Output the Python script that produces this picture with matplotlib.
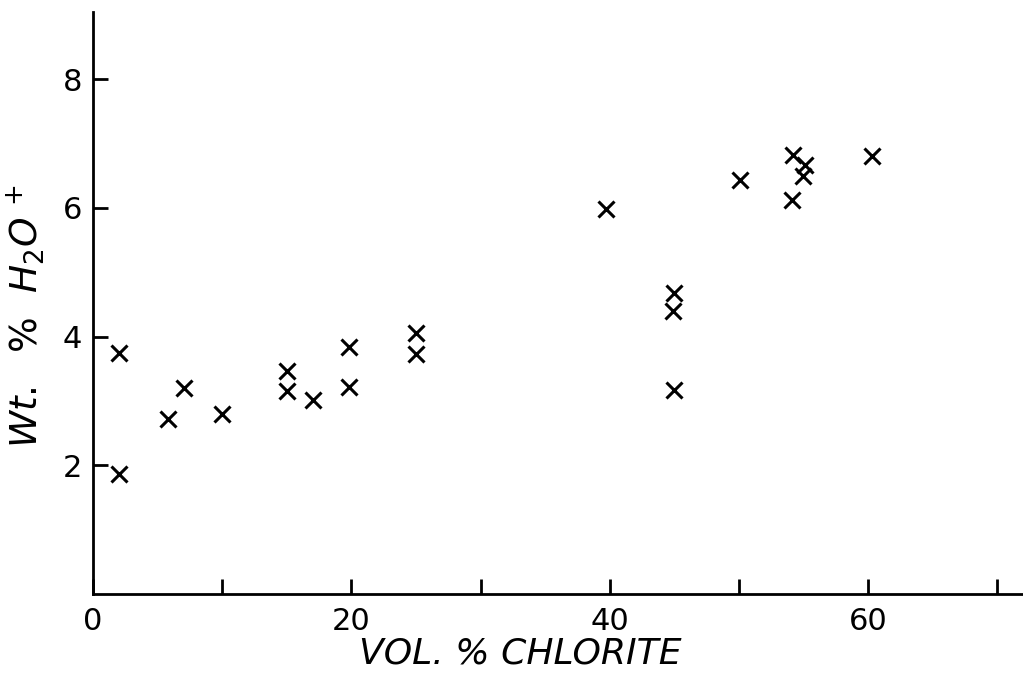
import matplotlib
matplotlib.use("Agg")
import matplotlib.pyplot as plt

# chlorite volume % vs. wt. % H2O+
chlorite = [2, 2, 5.8, 7.0, 10.0, 15.0, 15.0, 17.0, 19.8, 19.8, 25.0, 25.0,
            39.7, 45.0, 44.9, 45.0, 50.1, 54.2, 54.1, 55.1, 55.0, 60.3]
water = [3.75, 1.87, 2.72, 3.2, 2.8, 3.47, 3.16, 3.02, 3.84, 3.22, 4.06, 3.73,
         5.99, 4.68, 4.4, 3.17, 6.44, 6.83, 6.12, 6.67, 6.49, 6.81]

x_major = [0, 20, 40, 60]
x_minor = [10, 30, 50, 70]
y_major = [2, 4, 6, 8]

plt.rcParams["font.family"] = ["DejaVu Sans"]
plt.rcParams["mathtext.fontset"] = "dejavusans"

fig = plt.figure(figsize=(10.23, 6.86), dpi=100)
ax = fig.add_axes([0.091, 0.134, 0.909, 0.849])

ax.plot(chlorite, water, linestyle="none", marker="x", color="black",
        markersize=11, markeredgewidth=2.2)

ax.set_xlim(0, 72)
ax.set_ylim(0, 9.05)

ax.set_xticks(x_major)
ax.set_xticks(x_minor, minor=True)
ax.set_yticks(y_major)

ax.tick_params(axis="both", which="both", direction="in", length=11,
               width=2, color="black", labelsize=22)
ax.tick_params(axis="x", which="major", pad=9)
ax.tick_params(axis="y", which="major", pad=8)

for side in ("top", "right"):
    ax.spines[side].set_visible(False)
for side in ("left", "bottom"):
    ax.spines[side].set_linewidth(2)

ax.set_xlabel("VOL. % CHLORITE", fontsize=26, style="italic")
ax.xaxis.set_label_coords(0.459, -0.072)
ax.set_ylabel(r"$\mathit{Wt.}\ \ \mathit{\%}\ \ H_2O^{\,+}$", fontsize=27)
ax.yaxis.set_label_coords(-0.05, 0.478)

fig.savefig("out.png", dpi=100)
